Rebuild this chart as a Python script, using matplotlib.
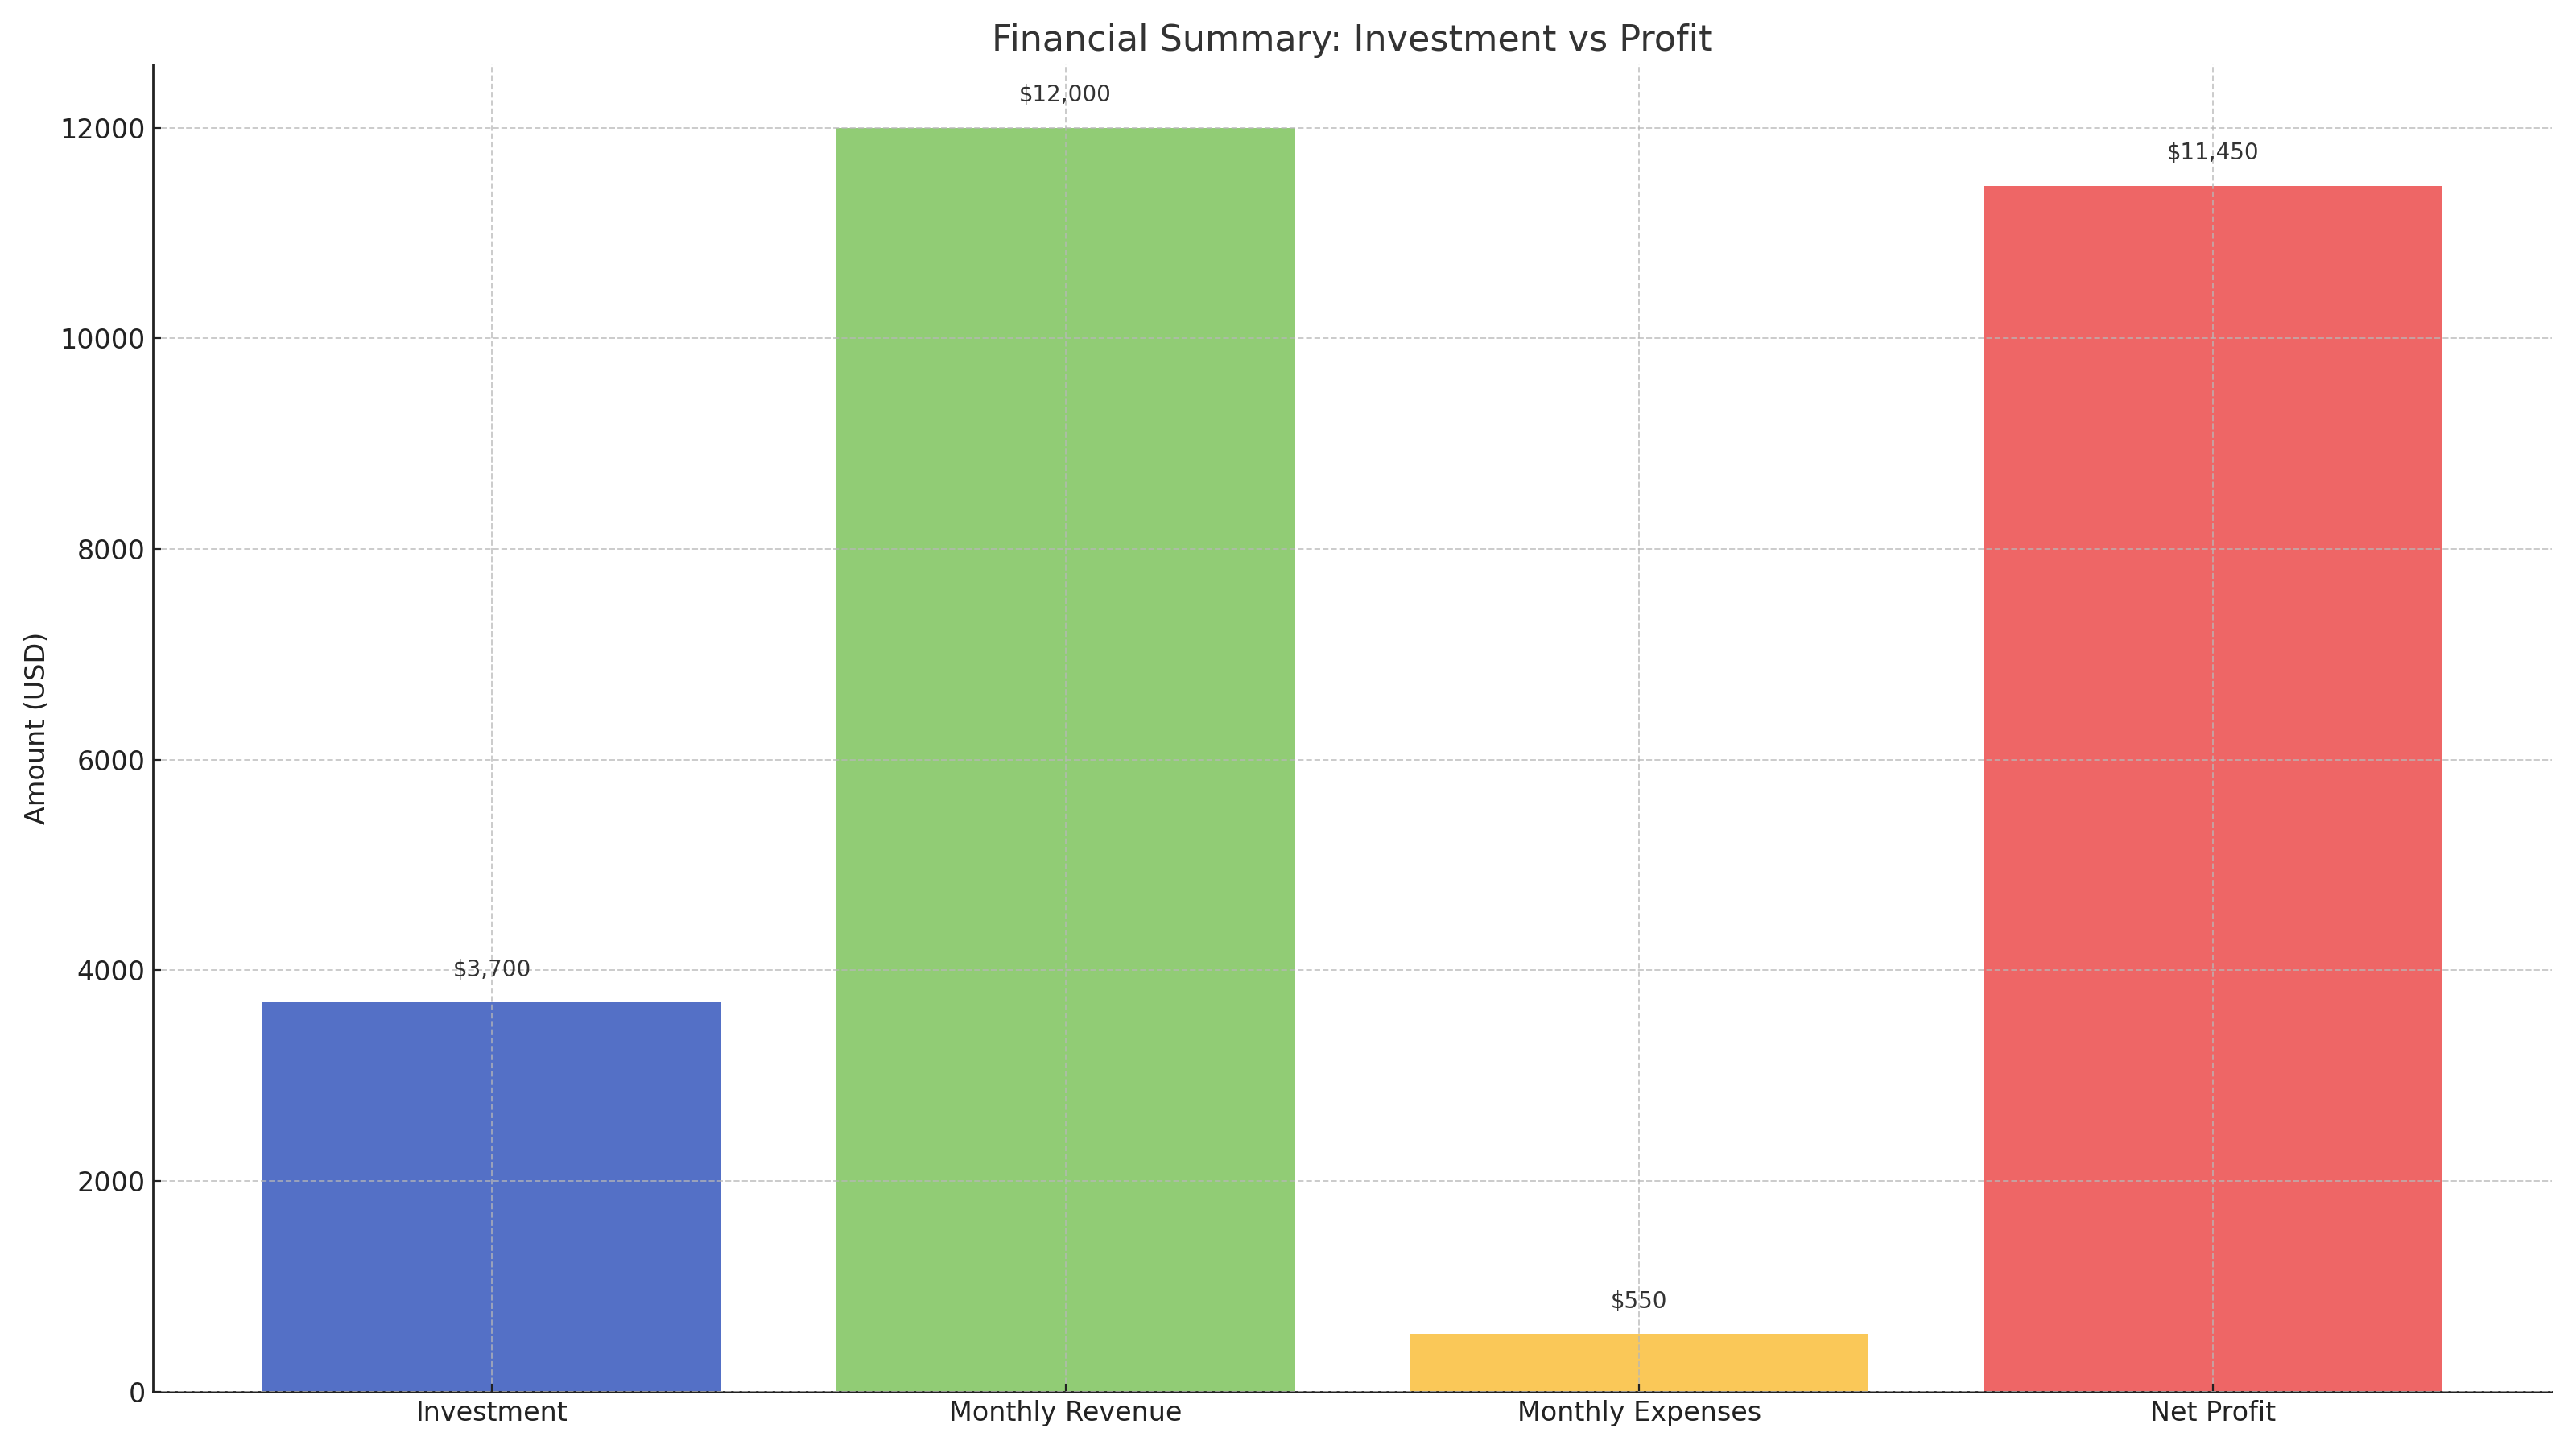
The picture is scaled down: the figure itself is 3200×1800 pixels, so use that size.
import matplotlib
matplotlib.use("Agg")
import matplotlib.pyplot as plt

categories = ["Investment", "Monthly Revenue", "Monthly Expenses", "Net Profit"]
values = [3700, 12000, 550, 11450]
colors = ["#5470C6", "#91CC75", "#FAC858", "#EE6666"]

plt.rcParams['font.family'] = ['DejaVu Sans']

fig, ax = plt.subplots(figsize=(16, 9), dpi=200)
fig.subplots_adjust(left=0.0595, right=0.9905, bottom=0.0395, top=0.9555)

bars = ax.bar(categories, values, color=colors, width=0.8, zorder=1)
ax.set_ylim(0, max(values) * 1.05)

for i, v in enumerate(values):
    ax.text(i, v + 200, f"${v:,}", ha="center", va="bottom", fontsize=10, color="#333333", zorder=3)

ax.set_title("Financial Summary: Investment vs Profit", fontsize=16, color="#333333")
ax.set_ylabel("Amount (USD)", fontsize=12, color="#222222")

ax.grid(True, linestyle="--", linewidth=0.7, color="#b7b7b7", alpha=0.72, zorder=2)
ax.set_axisbelow(False)

for s in ["top", "right"]:
    ax.spines[s].set_visible(False)
for s in ["left", "bottom"]:
    ax.spines[s].set_color("#222222")
    ax.spines[s].set_linewidth(1.0)

ax.tick_params(axis="both", direction="in", length=3.5, labelsize=12, colors="#222222")

fig.savefig("out.png", dpi=200)
